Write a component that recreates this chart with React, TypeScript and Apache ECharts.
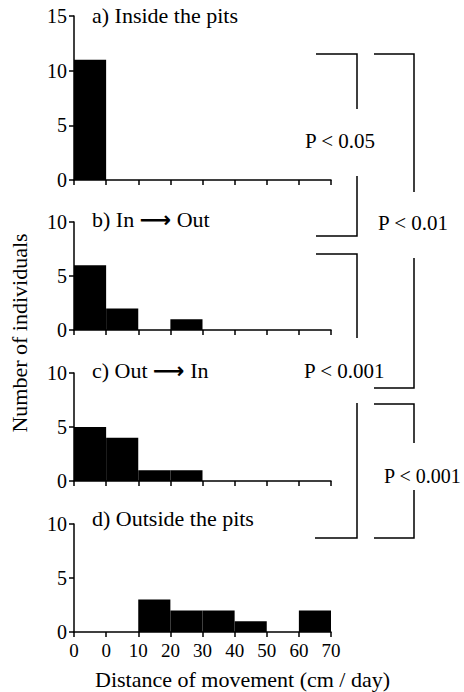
import React, { useEffect, useRef } from "react";
import * as echarts from "echarts";

const binEdgeLabels = ["0", "0", "10", "20", "30", "40", "50", "60", "70"];
const panelTitles = ["a) Inside the pits", "b) In {arr|⟶} Out", "c) Out {arr|⟶} In", "d) Outside the pits"];
const insideCounts = [11, 0, 0, 0, 0, 0, 0, 0];
const inToOutCounts = [6, 2, 0, 1, 0, 0, 0, 0];
const outToInCounts = [5, 4, 1, 1, 0, 0, 0, 0];
const outsideCounts = [0, 0, 3, 2, 2, 1, 0, 2];
const yMaxes = [15, 10, 10, 10];
const pLabels = ["P < 0.05", "P < 0.01", "P < 0.001", "P < 0.001"];
const xAxisTitle = "Distance of movement (cm / day)";
const yAxisTitle = "Number of individuals";

const FONT = '"Liberation Serif", "Times New Roman", serif';

export default function App() {
  const ref = useRef<HTMLDivElement>(null);
  useEffect(() => {
    document.body.style.margin = "0";
    if (!ref.current) return;
    const chart = echarts.init(ref.current, undefined, { renderer: "svg" });
    const allCounts = [insideCounts, inToOutCounts, outToInCounts, outsideCounts];
    const tops = [16, 222, 373, 524];
    const heights = [164, 108, 108, 108];
    const titleY = [15, 219, 370, 518];

    const grids = allCounts.map((_, i) => ({
      left: 74,
      right: 133,
      top: tops[i],
      height: heights[i],
    }));
    const axisLineStyle = { color: "#000", width: 1.5 };
    const xAxes = allCounts.map((_, i) => ({
      type: "value",
      gridIndex: i,
      min: 0,
      max: 8,
      interval: 1,
      axisLine: { show: true, lineStyle: axisLineStyle },
      axisTick: { show: true, length: 5, lineStyle: axisLineStyle },
      splitLine: { show: false },
      axisLabel: {
        show: i === 3,
        margin: 9,
        color: "#000",
        fontFamily: FONT,
        fontSize: 19,
        formatter: (v: number) => binEdgeLabels[Math.round(v)],
      },
    }));
    const yAxes = allCounts.map((_, i) => ({
      type: "value",
      gridIndex: i,
      min: 0,
      max: yMaxes[i],
      interval: 5,
      axisLine: { show: true, lineStyle: axisLineStyle },
      axisTick: { show: true, length: 5, lineStyle: axisLineStyle },
      splitLine: { show: false },
      axisLabel: {
        margin: 7,
        color: "#000",
        fontFamily: FONT,
        fontSize: 20,
      },
    }));
    const series = allCounts.map((counts, i) => ({
      type: "custom",
      xAxisIndex: i,
      yAxisIndex: i,
      encode: { x: [0, 1], y: 2 },
      data: counts.map((c, k) => [k, k + 1, c]),
      renderItem: (params: any, api: any) => {
        const p0 = api.coord([api.value(0), 0]);
        const p1 = api.coord([api.value(1), api.value(2)]);
        return {
          type: "rect",
          shape: { x: p0[0], y: p1[1], width: p1[0] - p0[0], height: p0[1] - p1[1] },
          style: { fill: "#000" },
        };
      },
    }));

    const txt = (text: string, x: number, y: number, size: number, extra: any = {}) => ({
      type: "text",
      x,
      y,
      ...extra,
      style: {
        text,
        font: `${size}px ${FONT}`,
        fill: "#000",
        verticalAlign: "middle",
        align: extra.align || "left",
        rich: {
          arr: {
            fontFamily: '"DejaVu Sans", sans-serif',
            fontSize: 22,
            fontWeight: "bold",
            fill: "#000",
            color: "#000",
          },
        },
      },
    });

    const bracketLines: number[][][] = [
      [[316, 54], [357, 54], [357, 109]],
      [[357, 176], [357, 236], [316, 236]],
      [[374, 54], [414, 54], [414, 192]],
      [[414, 258], [414, 388], [374, 388]],
      [[316, 254], [357, 254], [357, 338]],
      [[357, 403], [357, 538], [315, 538]],
      [[374, 404], [414, 404], [414, 443]],
      [[414, 490], [414, 538], [374, 538]],
    ];
    const pPos = [
      [305, 141, 21],
      [378, 223, 21],
      [304, 371, 21],
      [384, 476, 20],
    ];

    const graphic: any[] = [
      ...panelTitles.map((t, i) => txt(t, 92, titleY[i], 22)),
      ...bracketLines.map((pts) => ({
        type: "polyline",
        shape: { points: pts },
        style: { stroke: "#000", lineWidth: 1.5, fill: "none" },
      })),
      ...pLabels.map((t, i) => ({
        ...txt(t, pPos[i][0], pPos[i][1], pPos[i][2]),
        z: 10,
      })),
      txt(xAxisTitle, 95, 679, 22),
      txt(yAxisTitle, 19, 333, 22, { rotation: Math.PI / 2, align: "center" }),
    ];

    chart.setOption({
      animation: false,
      backgroundColor: "#fff",
      grid: grids,
      xAxis: xAxes,
      yAxis: yAxes,
      series,
      graphic,
    } as any);
    return () => chart.dispose();
  }, []);
  return <div ref={ref} style={{ width: 464, height: 692 }} />;
}
